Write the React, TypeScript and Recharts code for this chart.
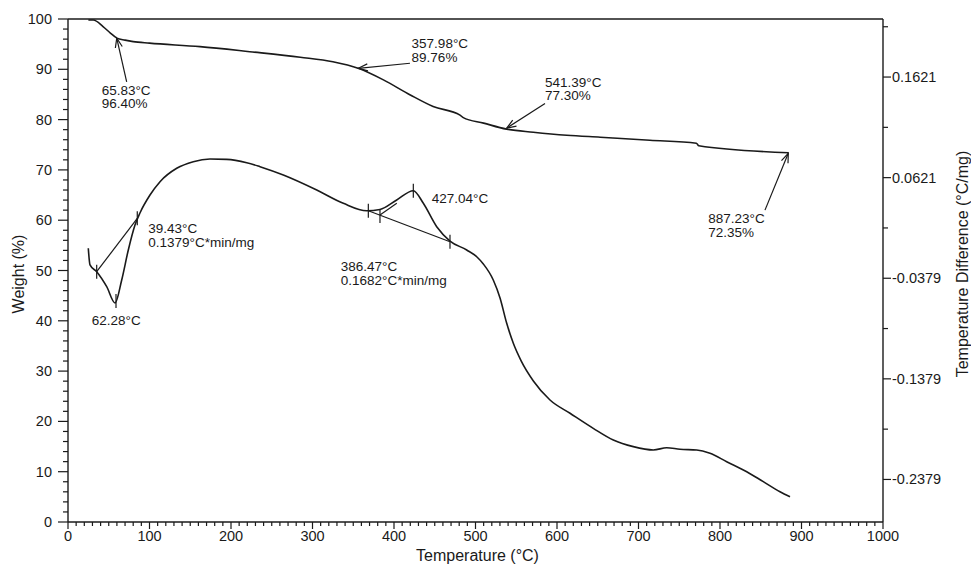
import React from 'react'
import { LineChart, Line, XAxis, YAxis, ReferenceLine, ReferenceDot } from 'recharts'

// TGA: weight (%) vs temperature
const tgaTemp = [25, 31, 43, 52, 60, 70, 80, 100, 162, 223, 285, 325, 356, 387, 420, 448, 481, 485, 510, 538, 571, 612, 653, 714, 771, 774, 884]
const tgaWeight = [99.8, 99.8, 98.5, 97.2, 96.2, 95.8, 95.5, 95.2, 94.5, 93.5, 92.4, 91.5, 90.2, 87.9, 84.9, 82.6, 80.9, 80.4, 79.3, 78.1, 77.5, 76.9, 76.5, 75.9, 75.3, 74.8, 73.4]

// DTA: temperature difference (°C/mg) vs temperature
const dtaTemp = [24.9, 27.0, 35.2, 47.5, 57.7, 65.9, 74.0, 82.2, 88.3, 100.6, 112.9, 133.4, 153.7, 174.2, 194.7, 219.3, 235.6, 264.2, 305.2, 337.8, 366.5, 382.8, 403.3, 423.7, 436.0, 452.4, 468.7, 489.2, 501.5, 509.6, 521.8, 530.1, 538.3, 546.4, 556.0, 571.0, 591.4, 616.0, 644.5, 669.1, 693.6, 718.2, 734.6, 750.9, 771.4, 787.7, 808.2, 832.8, 853.1, 873.6, 885.9]
const dtaDiff = [-0.0081, -0.0247, -0.0314, -0.0463, -0.0625, -0.0396, -0.0098, 0.0150, 0.0270, 0.0448, 0.0581, 0.0714, 0.0780, 0.0806, 0.0803, 0.0770, 0.0730, 0.0647, 0.0498, 0.0366, 0.0292, 0.0305, 0.0399, 0.0491, 0.0366, 0.0133, -0.0009, -0.0098, -0.0165, -0.0237, -0.0396, -0.0575, -0.0827, -0.1026, -0.1200, -0.1400, -0.1589, -0.1721, -0.1871, -0.1987, -0.2053, -0.2086, -0.2064, -0.2079, -0.2086, -0.2119, -0.2203, -0.2302, -0.2401, -0.2501, -0.2551]

const tempTicks = Array.from({ length: 101 }, (_, i) => i * 10)
const weightTicks = Array.from({ length: 51 }, (_, i) => i * 2)
const diffMajor = [0.1621, 0.0621, -0.0379, -0.1379, -0.2379]
const diffMinor = [0.2121, 0.1121, 0.0121, -0.0879, -0.1879]
const diffDomain = [-0.2802, 0.2198]

const tgaData = tgaTemp.map((t, i) => ({ t, w: tgaWeight[i] }))
const dtaData = dtaTemp.map((t, i) => ({ t, d: dtaDiff[i] }))

// annotation text, placed on the weight axis
const notes = [
  { t: 41.3, w: 85.9, lines: ['65.83°C', '96.40%'] },
  { t: 421.6, w: 95.2, lines: ['357.98°C', '89.76%'] },
  { t: 585.3, w: 87.5, lines: ['541.39°C', '77.30%'] },
  { t: 785.6, w: 60.4, lines: ['887.23°C', '72.35%'] },
  { t: 98.5, w: 58.4, lines: ['39.43°C', '0.1379°C*min/mg'] },
  { t: 29.1, w: 40.2, lines: ['62.28°C'] },
  { t: 446.3, w: 64.5, lines: ['427.04°C'] },
  { t: 334.6, w: 50.8, lines: ['386.47°C', '0.1682°C*min/mg'] },
]

// arrows from label to the TGA curve (tail -> head)
const arrows = [
  [[72.0, 87.5], [59.8, 96.2]],
  [[419.6, 91.2], [356.2, 90.2]],
  [[585.3, 83.2], [538.3, 78.3]],
  [[855.2, 62.0], [883.8, 73.3]],
]

// DTA construction lines and markers
const dtaLines = [
  [[35.2, -0.0314], [85.0, 0.0217]],
  [[368.5, 0.0292], [468.7, -0.0016]],
  [[382.8, 0.0250], [403.4, 0.0366]],
]
const dtaMarks = [[35.2, -0.0314], [58.9, -0.0605], [85.0, 0.0217], [368.5, 0.0292], [382.8, 0.0240], [423.7, 0.0491], [468.7, -0.0016]]

const INK = '#1a1a1a'
const FONT = '"Liberation Sans", Arial, sans-serif'

const XTick = ({ x, y, payload }: any) => {
  const major = payload.value % 100 === 0
  return (
    <g>
      <line x1={x} y1={y} x2={x} y2={y + (major ? 7 : 4)} stroke={INK} strokeWidth={1.2} />
      {major && (
        <text x={x} y={y + 19} textAnchor="middle" fontSize={14.5} fontFamily={FONT} fill={INK}>
          {payload.value}
        </text>
      )}
    </g>
  )
}

const LeftTick = ({ x, y, payload }: any) => {
  const major = payload.value % 10 === 0
  return (
    <g>
      <line x1={x} y1={y} x2={x - (major ? 10 : 5)} y2={y} stroke={INK} strokeWidth={1.2} />
      {major && (
        <text x={x - 16} y={y + 5} textAnchor="end" fontSize={14.5} fontFamily={FONT} fill={INK}>
          {payload.value}
        </text>
      )}
    </g>
  )
}

const RightTick = ({ x, y, payload }: any) => {
  const major = diffMajor.includes(payload.value)
  return (
    <g>
      <line x1={x} y1={y} x2={x + (major ? 8 : 5)} y2={y} stroke={INK} strokeWidth={1.2} />
      {major && (
        <text x={x + 9} y={y + 5} textAnchor="start" fontSize={14.5} fontFamily={FONT} fill={INK}>
          {payload.value.toFixed(4)}
        </text>
      )}
    </g>
  )
}

const Arrow = (p: any) => {
  const { x1, y1, x2, y2 } = p
  const a = Math.atan2(y2 - y1, x2 - x1)
  const len = 10
  const s = 0.36
  const h1 = `${x2 - len * Math.cos(a - s)},${y2 - len * Math.sin(a - s)}`
  const h2 = `${x2 - len * Math.cos(a + s)},${y2 - len * Math.sin(a + s)}`
  return (
    <g stroke={INK} strokeWidth={1.2} fill="none">
      <line x1={x1} y1={y1} x2={x2} y2={y2} />
      <polyline points={`${h1} ${x2},${y2} ${h2}`} />
    </g>
  )
}

const noteShape = (lines: string[]) => (p: any) => (
  <text x={p.cx} y={p.cy + 5} fontSize={13.5} fontFamily={FONT} fill={INK}>
    {lines.map((s, i) => (
      <tspan key={i} x={p.cx} dy={i === 0 ? 0 : 13.5}>{s}</tspan>
    ))}
  </text>
)

const LeftTitle = ({ viewBox }: any) => {
  const cx = viewBox.x + 18.5
  const cy = viewBox.y + viewBox.height / 2 + 3.5
  return (
    <text x={cx} y={cy} transform={`rotate(-90, ${cx}, ${cy})`} textAnchor="middle" dominantBaseline="central" fontSize={16} fontFamily={FONT} fill={INK}>
      Weight (%)
    </text>
  )
}

const RightTitle = ({ viewBox }: any) => {
  const cx = viewBox.x + 79
  const cy = viewBox.y + viewBox.height / 2 - 6.5
  return (
    <text x={cx} y={cy} transform={`rotate(-90, ${cx}, ${cy})`} textAnchor="middle" dominantBaseline="central" fontSize={16} fontFamily={FONT} fill={INK}>
      Temperature Difference (°C/mg)
    </text>
  )
}

const BottomTitle = ({ viewBox }: any) => (
  <text x={viewBox.x + viewBox.width / 2 + 2} y={viewBox.y + 39} textAnchor="middle" fontSize={16} fontFamily={FONT} fill={INK}>
    Temperature (°C)
  </text>
)

export default function App() {
  return (
    <div style={{ position: 'absolute', left: 0, top: 0, width: 971, height: 564, background: '#fff' }}>
      <LineChart width={971} height={564} margin={{ top: 19, right: 0, bottom: 0, left: 0 }}>
        <XAxis
          type="number"
          dataKey="t"
          domain={[0, 1000]}
          ticks={tempTicks}
          interval={0}
          height={42}
          tickSize={0}
          tickMargin={0}
          tickLine={false}
          tick={<XTick />}
          axisLine={{ stroke: INK, strokeWidth: 1.4 }}
          label={<BottomTitle />}
          allowDataOverflow
        />
        <YAxis
          yAxisId="w"
          type="number"
          domain={[0, 100]}
          ticks={weightTicks}
          interval={0}
          width={68}
          tickSize={0}
          tickMargin={0}
          tickLine={false}
          tick={<LeftTick />}
          axisLine={{ stroke: INK, strokeWidth: 1.4 }}
          label={<LeftTitle />}
          allowDataOverflow
        />
        <YAxis
          yAxisId="d"
          orientation="right"
          type="number"
          domain={diffDomain}
          ticks={[...diffMinor, ...diffMajor]}
          interval={0}
          width={88}
          tickSize={0}
          tickMargin={0}
          tickLine={false}
          tick={<RightTick />}
          axisLine={{ stroke: INK, strokeWidth: 1.4 }}
          label={<RightTitle />}
          allowDataOverflow
        />
        <ReferenceLine yAxisId="w" y={100} stroke={INK} strokeWidth={1.4} />
        <Line data={tgaData} yAxisId="w" dataKey="w" type="monotone" stroke={INK} strokeWidth={1.6} dot={false} isAnimationActive={false} />
        <Line data={dtaData} yAxisId="d" dataKey="d" type="monotone" stroke={INK} strokeWidth={1.6} dot={false} isAnimationActive={false} />
        {arrows.map(([a, b], i) => (
          <ReferenceLine key={`a${i}`} yAxisId="w" segment={[{ x: a[0], y: a[1] }, { x: b[0], y: b[1] }]} shape={Arrow} ifOverflow="visible" />
        ))}
        {dtaLines.map(([a, b], i) => (
          <ReferenceLine key={`l${i}`} yAxisId="d" segment={[{ x: a[0], y: a[1] }, { x: b[0], y: b[1] }]} stroke={INK} strokeWidth={1.2} ifOverflow="visible" />
        ))}
        {dtaMarks.map(([t, d], i) => (
          <ReferenceLine key={`m${i}`} yAxisId="d" segment={[{ x: t, y: d - 0.007 }, { x: t, y: d + 0.007 }]} stroke={INK} strokeWidth={1.2} ifOverflow="visible" />
        ))}
        {notes.map((n, i) => (
          <ReferenceDot key={`n${i}`} yAxisId="w" x={n.t} y={n.w} r={0} shape={noteShape(n.lines)} ifOverflow="visible" />
        ))}
      </LineChart>
    </div>
  )
}
